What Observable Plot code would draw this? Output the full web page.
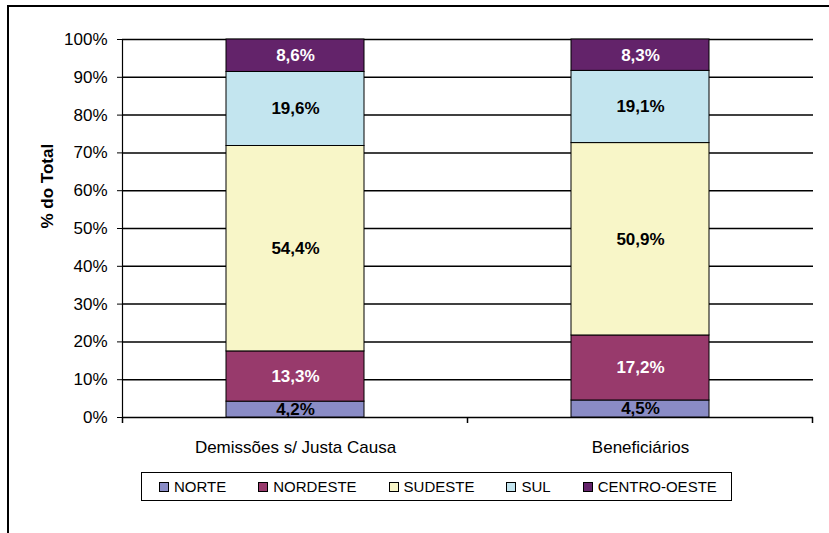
<!DOCTYPE html>
<html>
<head>
<meta charset="utf-8">
<script src="https://cdn.jsdelivr.net/npm/d3@7"></script>
<script src="https://cdn.jsdelivr.net/npm/@observablehq/plot@0.6"></script>
<style>
  body { margin: 0; background: #fff; font-family: "Liberation Sans", Arial, sans-serif; }
  #wrap { position: relative; width: 829px; height: 533px; overflow: hidden; }
  #frame { position: absolute; left: 7px; top: 5px; width: 900px; height: 700px; border-top: 2px solid #000; border-left: 2px solid #000; }
  #chart { position: relative; }
  #chart svg { display: block; }
  #legend { position: relative; margin-left: 141px; margin-top: 12px; width: 591px; height: 29px; border: 1.5px solid #000; display: flex; align-items: center; padding-left: 17px; box-sizing: border-box; font-size: 15px; color: #000; white-space: nowrap; }
  .item { display: flex; align-items: center; margin-right: 32px; flex-shrink: 0; }
  .sw { width: 8px; height: 8px; border: 1px solid #000; margin-right: 5px; }
</style>
</head>
<body>
<div id="wrap">
  <div id="frame"></div>
  <div id="chart"></div>
  <div id="legend"></div>
</div>
<script>
const groups = ["Demissões s/ Justa Causa", "Beneficiários"];
const regions = ["NORTE", "NORDESTE", "SUDESTE", "SUL", "CENTRO-OESTE"];
const demissoes = [4.2, 13.3, 54.4, 19.6, 8.6];
const beneficiarios = [4.5, 17.2, 50.9, 19.1, 8.3];
const colors = ["#8a8cc6", "#983a6c", "#f8f6c8", "#c3e5ef", "#63236a"];
const whiteLabel = ["NORDESTE", "CENTRO-OESTE"];
const yTicks = [0, 0.1, 0.2, 0.3, 0.4, 0.5, 0.6, 0.7, 0.8, 0.9, 1];
const yTitle = "% do Total";

const data = [];
[demissoes, beneficiarios].forEach((vals, gi) => {
  vals.forEach((v, ri) => data.push({group: groups[gi], region: regions[ri], value: v}));
});
const fmt = v => v.toFixed(1).replace(".", ",") + "%";
const stackOpts = {x: "group", y: "value", z: "region", order: regions, offset: "normalize"};

const chart = Plot.plot({
  width: 829,
  height: 460,
  marginLeft: 122,
  marginRight: 16,
  marginTop: 39,
  marginBottom: 43,
  style: {fontFamily: "'Liberation Sans', Arial, sans-serif", background: "transparent", overflow: "visible"},
  x: {domain: groups, paddingInner: 0.6, paddingOuter: 0.3, label: null},
  y: {domain: [0, 1], label: null},
  color: {domain: regions, range: colors},
  marks: [
    Plot.gridY(yTicks, {stroke: "#000", strokeOpacity: 1, strokeWidth: 1.5}),
    Plot.barY(data, Plot.stackY({...stackOpts, fill: "region", stroke: "#000", strokeWidth: 1})),
    Plot.text(data, Plot.stackY({...stackOpts, text: d => whiteLabel.includes(d.region) ? "" : fmt(d.value), fill: "#000", fontWeight: "bold", fontSize: 17})),
    Plot.text(data, Plot.stackY({...stackOpts, text: d => whiteLabel.includes(d.region) ? fmt(d.value) : "", fill: "#fff", fontWeight: "bold", fontSize: 17})),
    Plot.axisY(yTicks, {tickFormat: d3.format(".0%"), tickSize: 5, tickPadding: 10, fontSize: 17, stroke: "#000", label: null}),
    Plot.axisX({tickSize: 0, tickPadding: 23, fontSize: 17, label: null}),
    Plot.frame({anchor: "left", stroke: "#000", strokeWidth: 1.2}),
    Plot.text([yTitle], {frameAnchor: "left", rotate: -90, dx: -75, fontWeight: "bold", fontSize: 17, fill: "#000"})
  ]
});
document.getElementById("chart").appendChild(chart);

// x-axis tick marks at category boundaries, from the library's scales
const xs = chart.scale("x");
const ys = chart.scale("y");
const y0 = ys.apply(0);
const gap = (xs.step - xs.bandwidth) / 2;
const bounds = groups.map(g => xs.apply(g) - gap);
bounds.push(xs.apply(groups[groups.length - 1]) + xs.bandwidth + gap);
const svg = d3.select(chart);
svg.append("g").selectAll("line").data(bounds).join("line")
  .attr("x1", d => d).attr("x2", d => d)
  .attr("y1", y0).attr("y2", y0 + 6)
  .attr("stroke", "#000").attr("stroke-width", 1.5);

// legend
const legend = d3.select("#legend");
regions.forEach((r, i) => {
  const it = legend.append("div").attr("class", "item");
  it.append("div").attr("class", "sw").style("background", colors[i]);
  it.append("span").text(r);
});
</script>
</body>
</html>
